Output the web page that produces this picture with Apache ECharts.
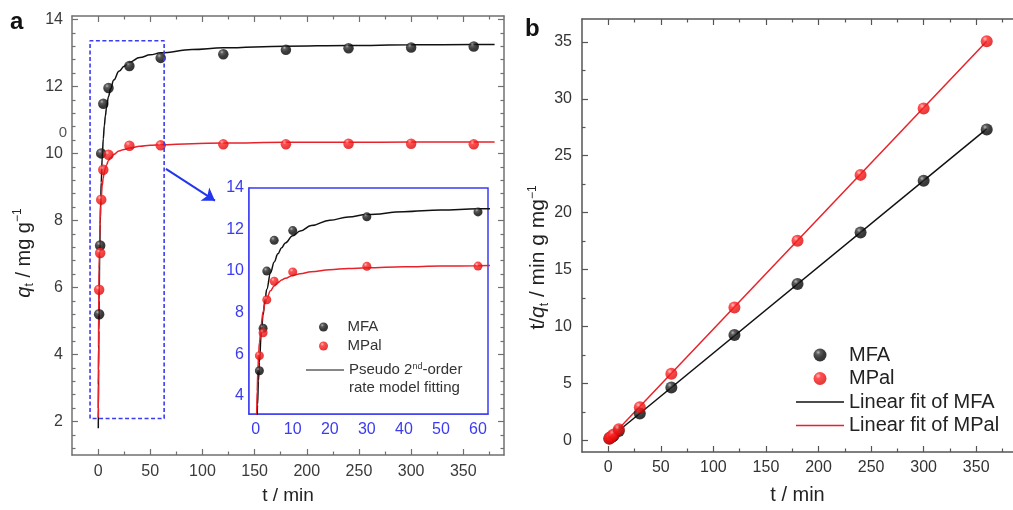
<!DOCTYPE html>
<html>
<head>
<meta charset="utf-8">
<script src="https://cdn.jsdelivr.net/npm/echarts@6/dist/echarts.min.js"></script>
<style>
  html, body { margin: 0; padding: 0; background: #fff; }
  #chart { width: 1013px; height: 510px; }
</style>
</head>
<body>
<div id="chart"></div>
<script>
// Adsorption kinetics: uptake q_t vs time and the linearised t/q_t plot.
const times = [1, 2, 3, 5, 10, 30, 60, 120, 180, 240, 300, 360];
const qMFA  = [5.20, 7.25, 10.00, 11.48, 11.95, 12.61, 12.85, 12.96, 13.09, 13.14, 13.16, 13.19];
const qMPal = [5.93, 7.03, 8.62, 9.51, 9.96, 10.23, 10.24, 10.27, 10.27, 10.29, 10.29, 10.27];

// Pseudo second-order model curves
const fitTimesMFA = [0.21, 0.3, 0.5, 0.75, 1, 1.5, 2, 2.5, 3, 4, 5, 6, 7, 8, 10, 12, 15, 20, 25, 30, 40, 50, 60, 90, 120, 180, 240, 300, 360, 380];
const fitMFA      = [1.80, 2.39, 3.56, 4.71, 5.61, 6.95, 7.89, 8.58, 9.13, 9.91, 10.44, 10.83, 11.12, 11.35, 11.70, 11.93, 12.19, 12.45, 12.60, 12.72, 12.86, 12.94, 13.00, 13.10, 13.15, 13.20, 13.22, 13.24, 13.25, 13.25];
const fitTimesMPal = [0.15, 0.25, 0.4, 0.6, 0.8, 1, 1.5, 2, 2.5, 3, 4, 5, 6, 7, 8, 10, 12, 15, 20, 25, 30, 40, 50, 60, 90, 120, 180, 240, 300, 360, 380];
const fitMPal      = [2.12, 3.12, 4.22, 5.26, 6.00, 6.55, 7.47, 8.03, 8.42, 8.68, 9.05, 9.28, 9.44, 9.57, 9.65, 9.79, 9.87, 9.97, 10.07, 10.12, 10.16, 10.21, 10.24, 10.26, 10.29, 10.31, 10.33, 10.33, 10.34, 10.34, 10.34];

// t/q_t linear form
const tqMFA  = [0.19, 0.27, 0.30, 0.43, 0.84, 2.38, 4.67, 9.26, 13.75, 18.26, 22.80, 27.30];
const tqMPal = [0.17, 0.28, 0.35, 0.53, 1.00, 2.93, 5.86, 11.68, 17.53, 23.32, 29.15, 35.05];
const linTimes = [0, 360];
const linMFA   = [0.12, 27.36];
const linMPal  = [0.08, 35.05];

// tick labels
const xTicksA = [0, 50, 100, 150, 200, 250, 300, 350];
const yTicksA = [2, 4, 6, 8, 10, 12, 14];
const xTicksInset = [0, 10, 20, 30, 40, 50, 60];
const yTicksInset = [4, 6, 8, 10, 12, 14];
const xTicksB = [0, 50, 100, 150, 200, 250, 300, 350];
const yTicksB = [0, 5, 10, 15, 20, 25, 30, 35];

// early-time window that the inset enlarges, and the pointer to it
const zoomWindowT = [-7.7, 63.3];
const zoomWindowQ = [2.09, 13.36];
const pointerFrom = [65, 9.54];
const pointerTo   = [112, 8.59];

const FONT = '"Liberation Sans", Arial, Helvetica, sans-serif';
const BLUE = '#3b3bf2';
const RED = '#e8222a';
const LINE_ICON = 'path://M0,0L100,0L100,3L0,3Z';

function pairs(xs, ys) { return xs.map((x, i) => [x, ys[i]]); }
function minorTicks(lo, hi, step, majors) {
  const out = [];
  for (let v = lo; v <= hi + 1e-9; v += step) {
    const r = Math.round(v * 1000) / 1000;
    if (!majors.some(m => Math.abs(m - r) < 1e-6)) out.push(r);
  }
  return out;
}

const blackBall = { type: 'radial', x: 0.36, y: 0.3, r: 0.8, colorStops: [
  { offset: 0, color: '#a8a8a8' }, { offset: 0.22, color: '#333' }, { offset: 0.55, color: '#0a0a0a' }, { offset: 1, color: '#000' }] };
const redBall = { type: 'radial', x: 0.36, y: 0.3, r: 0.8, colorStops: [
  { offset: 0, color: '#ffb4b4' }, { offset: 0.25, color: '#ff2626' }, { offset: 1, color: '#d40000' }] };

function mkAxis(grid, position, range, ticks, st) {
  const a = {
    type: 'value', gridIndex: grid, position: position, min: range[0], max: range[1],
    axisLine: { show: !!st.line, onZero: false, lineStyle: { color: st.color, width: st.lw || 1.5 } },
    axisTick: { show: true, inside: true, length: st.len, customValues: ticks,
                lineStyle: { color: st.color, width: st.tw || 1.2 } },
    axisLabel: { show: !!st.labels, customValues: ticks, margin: st.margin || 8,
                 color: st.labelColor || '#333', fontSize: st.fontSize || 16, fontFamily: FONT },
    splitLine: { show: false },
    minorTick: { show: false }
  };
  if (st.name) {
    a.name = st.name;
    a.nameLocation = 'middle';
    a.nameGap = st.nameGap;
    a.nameTextStyle = st.nameTextStyle;
  }
  return a;
}

function titleStyle(size, pad) {
  return {
    fontSize: size, fontFamily: FONT, color: '#222', lineHeight: 24, padding: pad || 0,
    rich: {
      i: { fontStyle: 'italic', fontSize: size, fontFamily: FONT, color: '#222', lineHeight: 24 },
      n: { fontSize: size, fontFamily: FONT, color: '#222', lineHeight: 24 },
      sub: { fontSize: 12, fontFamily: FONT, color: '#222', lineHeight: 9, verticalAlign: 'bottom' },
      sup: { fontSize: 12, fontFamily: FONT, color: '#222', lineHeight: 10, verticalAlign: 'top' }
    }
  };
}

const rangeTA = [-25, 389], rangeQA = [1, 14.1];
const rangeTI = [-1.8, 62.7], rangeQI = [3.12, 14];
const rangeTB = [-25, 385], rangeYB = [-1, 37];
const GA = '#707070', GB = '#555';

const xAxes = [
  mkAxis(0, 'bottom', rangeTA, xTicksA, { line: true, color: GA, len: 6, labels: true, margin: 9, labelColor: '#3a3a3a',
    name: 't / min', nameGap: 31, nameTextStyle: { fontSize: 19, fontFamily: FONT, color: '#222' } }),
  mkAxis(0, 'bottom', rangeTA, minorTicks(25, 375, 25, xTicksA), { line: false, color: GA, len: 3.5 }),
  mkAxis(0, 'top', rangeTA, xTicksA, { line: true, color: GA, len: 6 }),
  mkAxis(0, 'top', rangeTA, minorTicks(25, 375, 25, xTicksA), { line: false, color: GA, len: 3.5 }),
  mkAxis(1, 'bottom', rangeTI, xTicksInset, { line: true, color: BLUE, len: 5, labels: true, margin: 8, labelColor: BLUE }),
  mkAxis(1, 'bottom', rangeTI, minorTicks(5, 60, 5, xTicksInset), { line: false, color: BLUE, len: 3 }),
  mkAxis(2, 'bottom', rangeTB, xTicksB, { line: true, color: GB, len: 6, labels: true, margin: 8,
    name: 't / min', nameGap: 33, nameTextStyle: { fontSize: 20, fontFamily: FONT, color: '#222' } }),
  mkAxis(2, 'bottom', rangeTB, minorTicks(25, 375, 25, xTicksB), { line: false, color: GB, len: 3.5 }),
  mkAxis(2, 'top', rangeTB, xTicksB, { line: true, color: GB, len: 6 }),
  mkAxis(2, 'top', rangeTB, minorTicks(25, 375, 25, xTicksB), { line: false, color: GB, len: 3.5 })
];

const yAxes = [
  mkAxis(0, 'left', rangeQA, yTicksA, { line: true, color: GA, len: 6, labels: true, margin: 9, labelColor: '#3a3a3a',
    name: '{i|q}{sub|t}{n| / mg g}{sup|−1}', nameGap: 36, nameTextStyle: titleStyle(20, [0, 35, 0, 0]) }),
  mkAxis(0, 'left', rangeQA, minorTicks(1.2, 14, 0.4, yTicksA), { line: false, color: GA, len: 3.5 }),
  mkAxis(0, 'right', rangeQA, yTicksA, { line: true, color: GA, len: 6 }),
  mkAxis(0, 'right', rangeQA, minorTicks(1.2, 14, 0.4, yTicksA), { line: false, color: GA, len: 3.5 }),
  mkAxis(1, 'left', rangeQI, yTicksInset, { line: true, color: BLUE, len: 5, labels: true, margin: 5, labelColor: BLUE }),
  mkAxis(1, 'left', rangeQI, minorTicks(5, 13, 1, yTicksInset), { line: false, color: BLUE, len: 3 }),
  mkAxis(2, 'left', rangeYB, yTicksB, { line: true, color: GB, len: 6, labels: true, margin: 10,
    name: '{n|t/}{i|q}{sub|t}{n| / min g mg}{sup|−1}', nameGap: 30, nameTextStyle: titleStyle(21, [0, 44, 0, 0]) }),
  mkAxis(2, 'left', rangeYB, minorTicks(2.5, 37, 2.5, yTicksB), { line: false, color: GB, len: 3.5 })
];

function scatter(name, xs, ys, grid, size, fill) {
  const idx = [0, 4, 6][grid];
  return { type: 'scatter', name: name, xAxisIndex: idx, yAxisIndex: idx, data: pairs(xs, ys),
           symbol: 'circle', symbolSize: size, itemStyle: { color: fill }, z: 4, clip: true };
}
function curve(name, xs, ys, grid, color, extra) {
  const idx = [0, 4, 6][grid];
  return Object.assign({ type: 'line', name: name, xAxisIndex: idx, yAxisIndex: idx, data: pairs(xs, ys),
           symbol: 'none', smooth: 0.4, smoothMonotone: 'x', clip: true,
           lineStyle: { color: color, width: 1.5 }, itemStyle: { color: color }, z: 3 }, extra || {});
}

const FIT_NAME = 'Pseudo 2nd-order rate model fitting';

const series = [
  // main kinetics panel
  curve(FIT_NAME, fitTimesMFA, fitMFA, 0, '#111'),
  curve('MPal model', fitTimesMPal, fitMPal, 0, RED),
  scatter('MFA', times, qMFA, 0, 10.5, blackBall),
  scatter('MPal', times, qMPal, 0, 10.5, redBall),
  {
    type: 'line', name: 'window', xAxisIndex: 0, yAxisIndex: 0, symbol: 'none', z: 5, silent: true,
    data: [[zoomWindowT[0], zoomWindowQ[0]], [zoomWindowT[0], zoomWindowQ[1]], [zoomWindowT[1], zoomWindowQ[1]],
           [zoomWindowT[1], zoomWindowQ[0]], [zoomWindowT[0], zoomWindowQ[0]]],
    lineStyle: { color: BLUE, width: 1.6, type: [4, 2.5] },
    markLine: {
      silent: true, symbol: ['none', 'arrow'], symbolSize: 12, animation: false,
      label: { show: false },
      lineStyle: { color: '#2236ee', width: 2, type: 'solid' },
      data: [[{ coord: pointerFrom }, { coord: pointerTo }]]
    }
  },
  // inset: first hour
  curve(FIT_NAME, fitTimesMFA, fitMFA, 1, '#111'),
  curve('MPal model', fitTimesMPal, fitMPal, 1, RED),
  scatter('MFA', times, qMFA, 1, 9, blackBall),
  scatter('MPal', times, qMPal, 1, 9, redBall),
  // linear form panel
  curve('Linear fit of MFA', linTimes, linMFA, 2, '#111', { smooth: false }),
  curve('Linear fit of MPal', linTimes, linMPal, 2, RED, { smooth: false }),
  scatter('MFA', times, tqMFA, 2, 12, blackBall),
  scatter('MPal', times, tqMPal, 2, 12, redBall)
];

const option = {
  animation: false,
  backgroundColor: '#fff',
  grid: [
    { left: 72, top: 16, width: 432, height: 445 },
    { left: 249, top: 188, width: 239, height: 226, show: true, backgroundColor: '#fff',
      borderColor: BLUE, borderWidth: 1.5, z: 1 },
    { left: 582, top: 19, width: 437, height: 433 }
  ],
  xAxis: xAxes,
  yAxis: yAxes,
  legend: [
    {
      orient: 'vertical', left: 791, top: 340, itemWidth: 48, itemHeight: 13, itemGap: 3.5,
      selectedMode: false,
      data: [{ name: 'MFA', icon: 'circle' }, { name: 'MPal', icon: 'circle' },
             { name: 'Linear fit of MFA', icon: LINE_ICON }, { name: 'Linear fit of MPal', icon: LINE_ICON }],
      textStyle: { fontSize: 20, lineHeight: 20, fontFamily: FONT, color: '#222' }
    },
    {
      orient: 'vertical', left: 314, top: 314.5, itemWidth: 38, itemHeight: 9, itemGap: 4,
      selectedMode: false,
      data: [{ name: 'MFA', icon: 'circle' }, { name: 'MPal', icon: 'circle' }],
      textStyle: { fontSize: 15, lineHeight: 15, fontFamily: FONT, color: '#333' }
    },
    {
      orient: 'vertical', left: 301, top: 357.5, itemWidth: 38, itemHeight: 9,
      selectedMode: false,
      data: [{ name: FIT_NAME, icon: LINE_ICON }],
      formatter: () => 'Pseudo 2{sup|nd}-order',
      textStyle: { fontSize: 15, lineHeight: 15, fontFamily: FONT, color: '#333',
        rich: { sup: { fontSize: 9, lineHeight: 9, verticalAlign: 'top', fontFamily: FONT, color: '#333' } } }
    }
  ],
  graphic: [
    { type: 'text', left: 10, top: 10, style: { text: 'a', font: 'bold 24px ' + FONT, fill: '#111' } },
    { type: 'text', left: 525, top: 17, style: { text: 'b', font: 'bold 24px ' + FONT, fill: '#111' } },
    { type: 'text', x: 63, y: 133, style: { text: '0', font: '15px ' + FONT, fill: '#555',
      textAlign: 'center', textVerticalAlign: 'middle' } },
    { type: 'text', x: 349, y: 388, z: 10, style: { text: 'rate model fitting', font: '15px ' + FONT, fill: '#333',
      textVerticalAlign: 'middle' } }
  ],
  series: series
};

const chart = echarts.init(document.getElementById('chart'), null, { renderer: 'canvas' });
chart.setOption(option);
</script>
</body>
</html>
